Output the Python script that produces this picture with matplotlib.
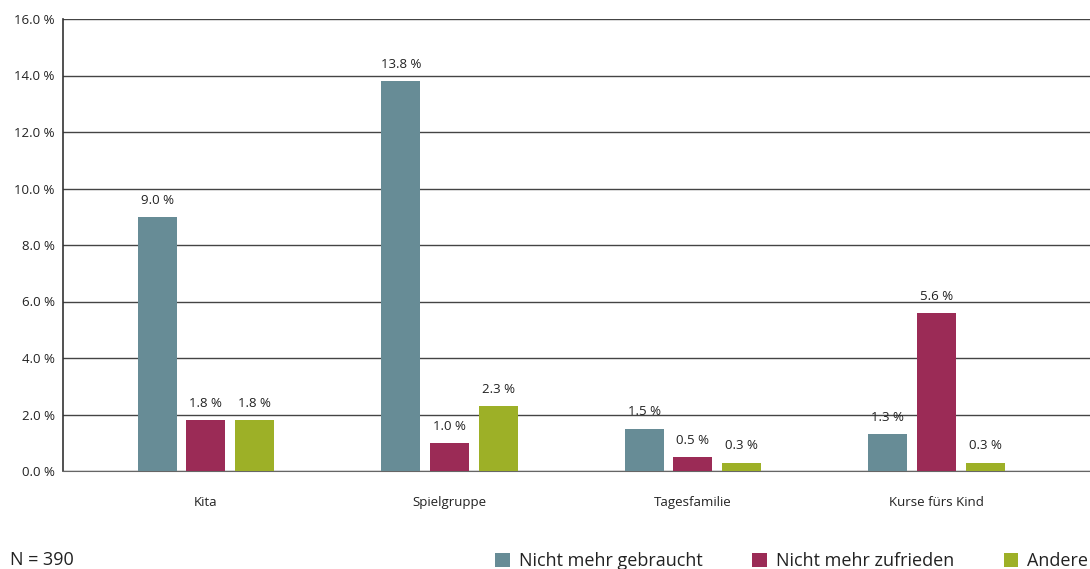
import matplotlib.pyplot as plt
import numpy as np

# donnees
kategorien = ["Kita", "Spielgruppe", "Tagesfamilie", "Kurse fürs Kind"]
nicht_gebraucht = [9.0, 13.8, 1.5, 1.3]
nicht_zufrieden = [1.8, 1.0, 0.5, 5.6]
andere = [1.8, 2.3, 0.3, 0.3]
serien = ["Nicht mehr gebraucht", "Nicht mehr zufrieden", "Andere"]
farben = ["#678c96", "#9b2b56", "#9db027"]

plt.rcParams['font.family'] = ['Open Sans', 'DejaVu Sans']

fig = plt.figure(figsize=(10.9, 5.69), dpi=100)
ax = fig.add_axes([63 / 1090, 98 / 569, 1030 / 1090, 452 / 569])

x = np.arange(len(kategorien))
breite = 0.16
decal = 0.2
for i, (vals, nom, c) in enumerate(zip([nicht_gebraucht, nicht_zufrieden, andere], serien, farben)):
    pos = x + (i - 1) * decal
    ax.bar(pos, vals, width=breite, color=c, label=nom, zorder=3)
    for p, v in zip(pos, vals):
        ax.text(p, v + 0.36, f"{v:.1f} %", ha='center', va='bottom', fontsize=9.5, color='#222222')

ax.set_xlim(-0.587, 3.643)
ax.set_ylim(0, 16)
ax.set_yticks(np.arange(0, 16.1, 2))
ax.set_yticklabels([f"{t:.1f} %" for t in np.arange(0, 16.1, 2)], fontsize=9.5, color='#222222')
ax.set_xticks(x)
ax.set_xticklabels(kategorien, fontsize=9.5, color='#222222')
ax.tick_params(axis='both', length=0)
ax.tick_params(axis='x', pad=18)
ax.tick_params(axis='y', pad=6)
ax.grid(axis='y', color='#444444', linewidth=1, zorder=0)
for s in ['top', 'right']:
    ax.spines[s].set_visible(False)
ax.spines['left'].set_color('#333333')
ax.spines['bottom'].set_color('#666666')
ax.spines['left'].set_linewidth(1.2)

fig.text(10 / 1090, 4 / 569, "N = 390", fontsize=13, color='#222222', va='baseline')
fig.legend(loc='lower left', bbox_to_anchor=(479 / 1090, -0.031), ncol=3, frameon=False,
           fontsize=13, handlelength=0.8, handleheight=0.8, handletextpad=0.5,
           columnspacing=2.75, labelcolor='#222222')

fig.savefig("out.png", dpi=100)
